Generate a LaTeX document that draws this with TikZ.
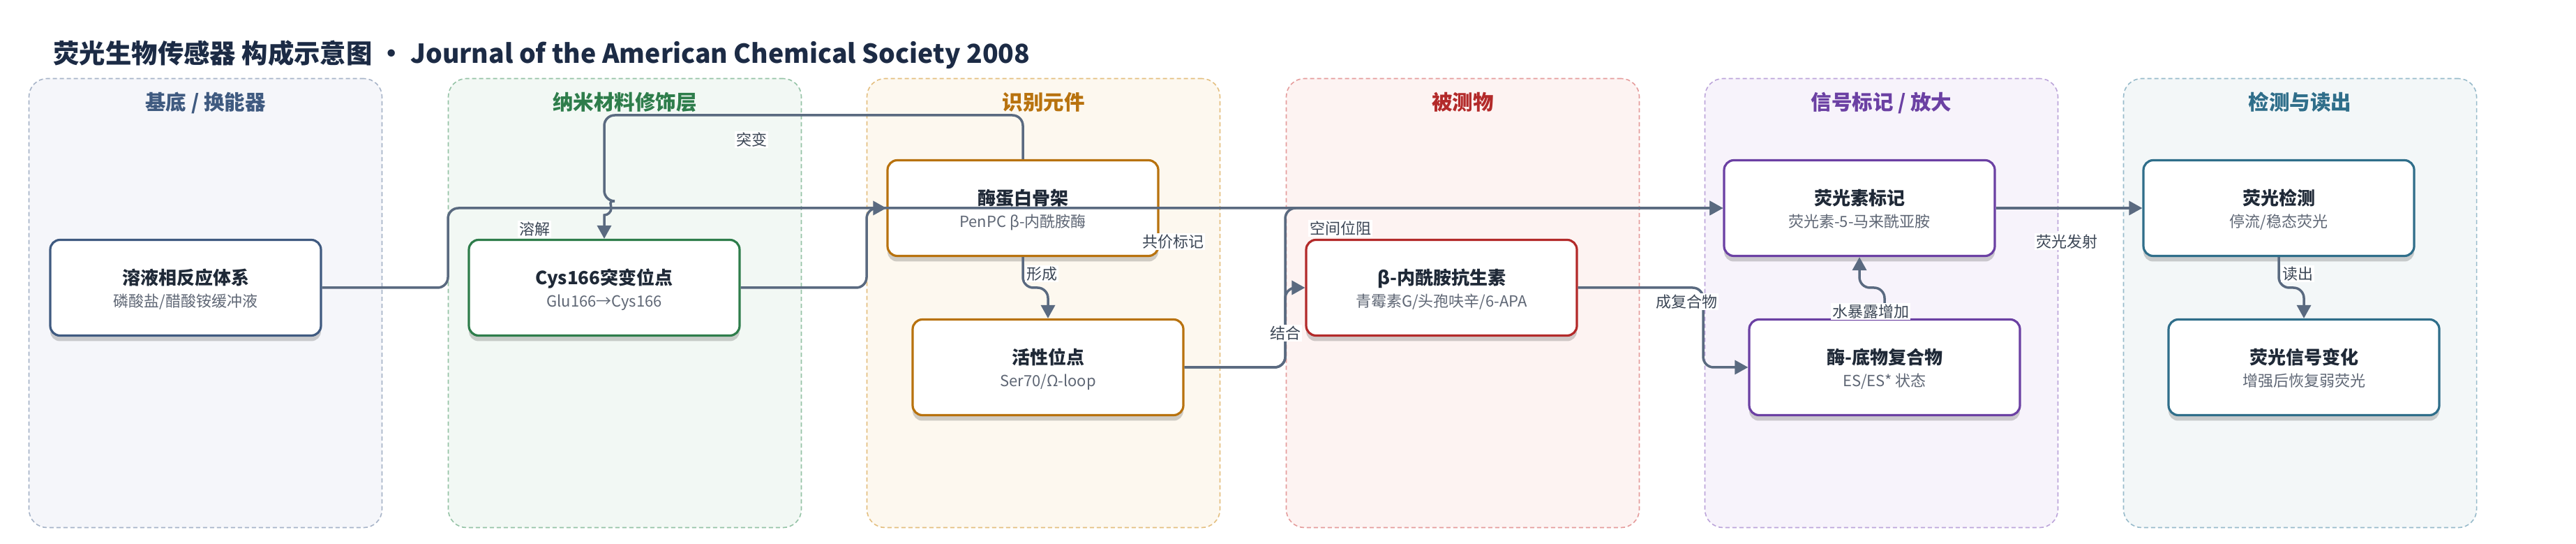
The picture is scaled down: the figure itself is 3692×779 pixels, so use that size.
\documentclass[tikz,border=0pt]{standalone}
\usepackage{fontspec}
\setmainfont{Noto Sans CJK SC}
\usetikzlibrary{arrows.meta,shadows}

\definecolor{inkTitle}{HTML}{1C2B45}
\definecolor{inkText}{HTML}{1F2937}
\definecolor{inkSub}{HTML}{5F6775}
\definecolor{inkLabel}{HTML}{3B4655}
\definecolor{linkGray}{HTML}{5A6A80}
\definecolor{baseDark}{HTML}{3F5A80}
\definecolor{baseFill}{HTML}{F5F6FA}
\definecolor{baseLine}{HTML}{A7B4C8}
\definecolor{nanoDark}{HTML}{2E7D4B}
\definecolor{nanoFill}{HTML}{F2F8F4}
\definecolor{nanoLine}{HTML}{95C3A6}
\definecolor{recoDark}{HTML}{B8720E}
\definecolor{recoFill}{HTML}{FDF8EF}
\definecolor{recoLine}{HTML}{E4BF80}
\definecolor{anaDark}{HTML}{B32A2A}
\definecolor{anaFill}{HTML}{FDF3F2}
\definecolor{anaLine}{HTML}{E59C9C}
\definecolor{sigDark}{HTML}{6B40A3}
\definecolor{sigFill}{HTML}{F7F3FB}
\definecolor{sigLine}{HTML}{BCA5DA}
\definecolor{detDark}{HTML}{2F6E8A}
\definecolor{detFill}{HTML}{F3F7F8}
\definecolor{detLine}{HTML}{98BBCB}

\begin{document}
\begin{tikzpicture}[x=0.5pt, y=-0.5pt,
    lane/.style={dash pattern=on 3pt off 2pt, line width=0.8pt, rounded corners=13pt,
        minimum width=253pt, minimum height=321.5pt, inner sep=0pt},
    lanetitle/.style={anchor=base, inner sep=0pt, font=\bfseries\fontsize{14.75}{17}\selectfont},
    box/.style={fill=white, line width=1.6pt, rounded corners=7pt, minimum width=194pt,
        minimum height=68.5pt, inner sep=0pt,
        drop shadow={shadow xshift=0pt, shadow yshift=-4pt, opacity=0.18, fill=black}},
    btitle/.style={anchor=base, inner sep=0pt, text=inkText, font=\bfseries\fontsize{13}{15}\selectfont},
    bsub/.style={anchor=base, inner sep=0pt, text=inkSub, font=\fontsize{11}{13}\selectfont},
    link/.style={draw=linkGray, line width=1.75pt, rounded corners=7.5pt,
        -{Triangle[length=9.5pt, width=10pt]}},
    lbl/.style={fill=white, inner sep=1pt, text=inkLabel, font=\fontsize{11}{13}\selectfont}
]
    \fill[white] (0,0) rectangle (3692,779);
    \useasboundingbox (0,0) rectangle (3692,779);

    % lanes
    \node[lane, draw=baseLine, fill=baseFill] (laneBase) at (294.5,434) {};
    \node[lane, draw=nanoLine, fill=nanoFill] (laneNano) at (895.5,434) {};
    \node[lane, draw=recoLine, fill=recoFill] (laneReco) at (1495.5,434) {};
    \node[lane, draw=anaLine, fill=anaFill] (laneAna) at (2096.5,434) {};
    \node[lane, draw=sigLine, fill=sigFill] (laneSig) at (2696.5,434) {};
    \node[lane, draw=detLine, fill=detFill] (laneDet) at (3296.5,434) {};

    \node[lanetitle, text=baseDark] (laneBaseT) at (294.5,158) {基底 / 换能器};
    \node[lanetitle, text=nanoDark] (laneNanoT) at (895.5,158) {纳米材料修饰层};
    \node[lanetitle, text=recoDark] (laneRecoT) at (1495.5,158) {识别元件};
    \node[lanetitle, text=anaDark] (laneAnaT) at (2096.5,158) {被测物};
    \node[lanetitle, text=sigDark] (laneSigT) at (2696.5,158) {信号标记 / 放大};
    \node[lanetitle, text=detDark] (laneDetT) at (3296.5,158) {检测与读出};

    \node[anchor=base west, inner sep=0pt, text=inkTitle, font=\bfseries\fontsize{18.7}{22}\selectfont]
        (mainTitle) at (76,91) {荧光生物传感器 构成示意图 ・ Journal of the American Chemical Society 2008};

    % boxes
    \node[box, draw=baseDark] (solution) at (266,412) {};
    \node[btitle] (solutionT) at (266,408) {溶液相反应体系};
    \node[bsub] (solutionS) at (266,440) {磷酸盐/醋酸铵缓冲液};

    \node[box, draw=nanoDark] (mutsite) at (866,412) {};
    \node[btitle] (mutsiteT) at (866,408) {Cys166突变位点};
    \node[bsub] (mutsiteS) at (866,440) {Glu166→Cys166};

    \node[box, draw=recoDark] (scaffold) at (1466,298) {};
    \node[btitle] (scaffoldT) at (1466,294) {酶蛋白骨架};
    \node[bsub] (scaffoldS) at (1466,326) {PenPC β-内酰胺酶};

    \node[box, draw=recoDark] (active) at (1502,526) {};
    \node[btitle] (activeT) at (1502,522) {活性位点};
    \node[bsub] (activeS) at (1502,554) {Ser70/Ω-loop};

    \node[box, draw=anaDark] (antibiotic) at (2066,412) {};
    \node[btitle] (antibioticT) at (2066,408) {β-内酰胺抗生素};
    \node[bsub] (antibioticS) at (2066,440) {青霉素G/头孢呋辛/6-APA};

    \node[box, draw=sigDark] (fluor) at (2665,298) {};
    \node[btitle] (fluorT) at (2665,294) {荧光素标记};
    \node[bsub] (fluorS) at (2665,326) {荧光素-5-马来酰亚胺};

    \node[box, draw=sigDark] (complex) at (2701,526) {};
    \node[btitle] (complexT) at (2701,522) {酶-底物复合物};
    \node[bsub] (complexS) at (2701,554) {ES/ES* 状态};

    \node[box, draw=detDark] (detect) at (3266,298) {};
    \node[btitle] (detectT) at (3266,294) {荧光检测};
    \node[bsub] (detectS) at (3266,326) {停流/稳态荧光};

    \node[box, draw=detDark] (signal) at (3302,526) {};
    \node[btitle] (signalT) at (3302,522) {荧光信号变化};
    \node[bsub] (signalS) at (3302,554) {增强后恢复弱荧光};

    % links
    \draw[link] (solution.east) -- (642,412) |- (scaffold.west);
    \draw[link] (scaffold.north) |- (866,165) -- (866,288) [sharp corners]
        arc[start angle=90, end angle=-90, radius=5pt] -- (mutsite.north);
    \draw[link] (mutsite.east) -- (1242,412) |- (fluor.west);
    \draw[link] (scaffold.south) -- (1466,412) -| (active.north);
    \draw[link] (active.east) -- (1842,526) |- (antibiotic.west);
    \draw[link] (active.east) -- (1842,526) |- (fluor.west);
    \draw[link] (antibiotic.east) -- (2441,412) |- (complex.west);
    \draw[link] (complex.north) -- (2701,412) -| (fluor.south);
    \draw[link] (fluor.east) -- (detect.west);
    \draw[link] (detect.south) -- (3266,412) -| (signal.north);

    % link labels
    \node[lbl] (lbDissolve) at (766,328) {溶解};
    \node[lbl] (lbMutate) at (1077,200) {突变};
    \node[lbl] (lbLabel) at (1681,346) {共价标记};
    \node[lbl] (lbForm) at (1493,392) {形成};
    \node[lbl] (lbBind) at (1842,477) {结合};
    \node[lbl] (lbSteric) at (1921,327) {空间位阻};
    \node[lbl] (lbComplex) at (2417,432) {成复合物};
    \node[lbl] (lbWater) at (2681,446) {水暴露增加};
    \node[lbl] (lbEmit) at (2962,346) {荧光发射};
    \node[lbl] (lbRead) at (3293,392) {读出};
\end{tikzpicture}
\end{document}
